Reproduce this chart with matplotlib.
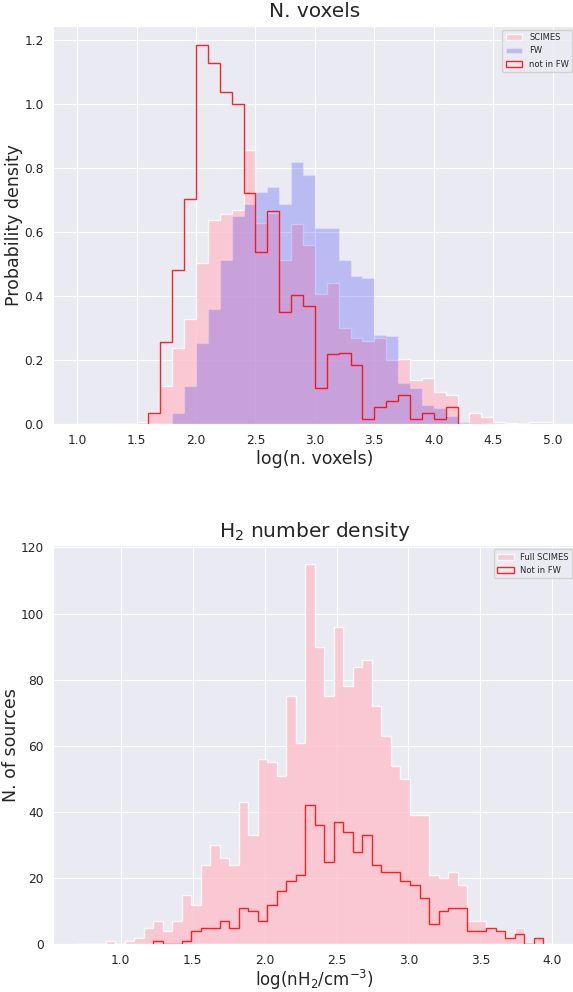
import matplotlib
matplotlib.use('Agg')
import matplotlib.pyplot as plt
import numpy as np
import seaborn as sns

sns.set_style('darkgrid')
plt.rcParams['font.family'] = ['DejaVu Sans']

# --- top panel: log(n. voxels), bins of 0.1 between 1.0 and 5.0 (probability density)
vox_edges = np.round(np.arange(1.0, 5.001, 0.1), 2)
vox_scimes = [0, 0, 0, 0, 0, 0.008, 0.036, 0.119, 0.238, 0.329,
              0.503, 0.636, 0.655, 0.667, 0.855, 0.629, 0.660, 0.511, 0.624, 0.560,
              0.407, 0.441, 0.300, 0.270, 0.259, 0.270, 0.202, 0.205, 0.138, 0.145,
              0.102, 0.091, 0.005, 0.034, 0.022, 0.008, 0.003, 0, 0.008, 0.008]
vox_fw = [0, 0, 0, 0, 0, 0, 0, 0, 0.036, 0.119,
          0.252, 0.360, 0.511, 0.650, 0.686, 0.726, 0.739, 0.686, 0.819, 0.778,
          0.612, 0.612, 0.511, 0.463, 0.456, 0.280, 0.275, 0.130, 0.114, 0.059,
          0.052, 0.026, 0.007, 0.004, 0, 0, 0, 0, 0, 0]
vox_notfw = [0, 0, 0, 0, 0, 0, 0.036, 0.257, 0.482, 0.702,
             1.184, 1.128, 1.037, 0.998, 0.721, 0.537, 0.664, 0.349, 0.404, 0.370,
             0.112, 0.220, 0.221, 0.184, 0.018, 0.055, 0.073, 0.091, 0.018, 0.036,
             0.018, 0.055, 0, 0, 0, 0, 0, 0, 0, 0]

# --- bottom panel: log(nH2), 50 bins (number of sources)
h2_edges = np.linspace(0.697, 4.002, 51)
h2_full = [0, 0, 0, 1, 0, 1, 2, 5, 7, 4,
           7, 15, 12, 24, 30, 26, 24, 43, 33, 56,
           55, 51, 75, 61, 115, 90, 75, 96, 78, 84,
           86, 72, 63, 54, 50, 39, 39, 21, 20, 22,
           18, 7, 7, 5, 4, 2, 5, 0, 2, 0]
h2_notfw = [0, 0, 0, 0, 0, 0, 0, 0, 1, 0,
            0, 1, 4, 5, 5, 7, 5, 11, 10, 7,
            12, 16, 19, 21, 42, 36, 25, 37, 34, 28,
            33, 24, 22, 22, 19, 18, 14, 6, 10, 11,
            11, 4, 4, 5, 4, 2, 3, 0, 2, 0]


def centers(edges):
    return 0.5 * (edges[:-1] + edges[1:])


def trimmed(edges, values):
    """ keep only the bins between the first and last non-empty one """
    v = np.asarray(values, dtype=float)
    nz = np.nonzero(v)[0]
    i0, i1 = nz[0], nz[-1] + 1
    return edges[i0:i1 + 1], v[i0:i1]


fig = plt.figure(figsize=(5.73, 9.92), dpi=100)
ax1 = fig.add_axes([0.093, 0.5723, 0.913, 0.4018])
ax2 = fig.add_axes([0.093, 0.0481, 0.913, 0.4025])

# top
ax1.hist(centers(vox_edges), bins=vox_edges, weights=vox_scimes,
         histtype='stepfilled', color='pink', alpha=0.8, label='SCIMES')
ax1.hist(centers(vox_edges), bins=vox_edges, weights=vox_fw,
         histtype='stepfilled', color='blue', alpha=0.2, label='FW')
e, v = trimmed(vox_edges, vox_notfw)
ax1.hist(centers(e), bins=e, weights=v, histtype='step', color='red',
         alpha=0.85, lw=1.0, label='not in FW')
ax1.set_xlim(0.8, 5.2)
ax1.set_xticks(np.arange(1.0, 5.01, 0.5))
ax1.set_title('N. voxels', fontsize=14.5)
ax1.set_xlabel('log(n. voxels)', fontsize=12.5, labelpad=2)
ax1.set_ylabel('Probability density', fontsize=12.5, labelpad=0.5)
ax1.tick_params(labelsize=8.8)
ax1.legend(loc='upper right', fontsize=6)

# bottom
ax2.hist(centers(h2_edges), bins=h2_edges, weights=h2_full,
         histtype='stepfilled', color='pink', alpha=0.8, label='Full SCIMES')
e, v = trimmed(h2_edges, h2_notfw)
ax2.hist(centers(e), bins=e, weights=v, histtype='step', color='red',
         alpha=0.85, lw=1.0, label='Not in FW')
ax2.set_xlim(0.532, 4.167)
ax2.set_yticks(np.arange(0, 121, 20))
ax2.set_title('H$_2$ number density', fontsize=14.5)
ax2.set_xlabel('log(nH$_2$/cm$^{-3}$)', fontsize=12, labelpad=1)
ax2.set_ylabel('N. of sources', fontsize=12.5, labelpad=0.5)
ax2.tick_params(labelsize=8.8)
ax2.legend(loc='upper right', fontsize=6)

fig.savefig('out.png', dpi=100)
